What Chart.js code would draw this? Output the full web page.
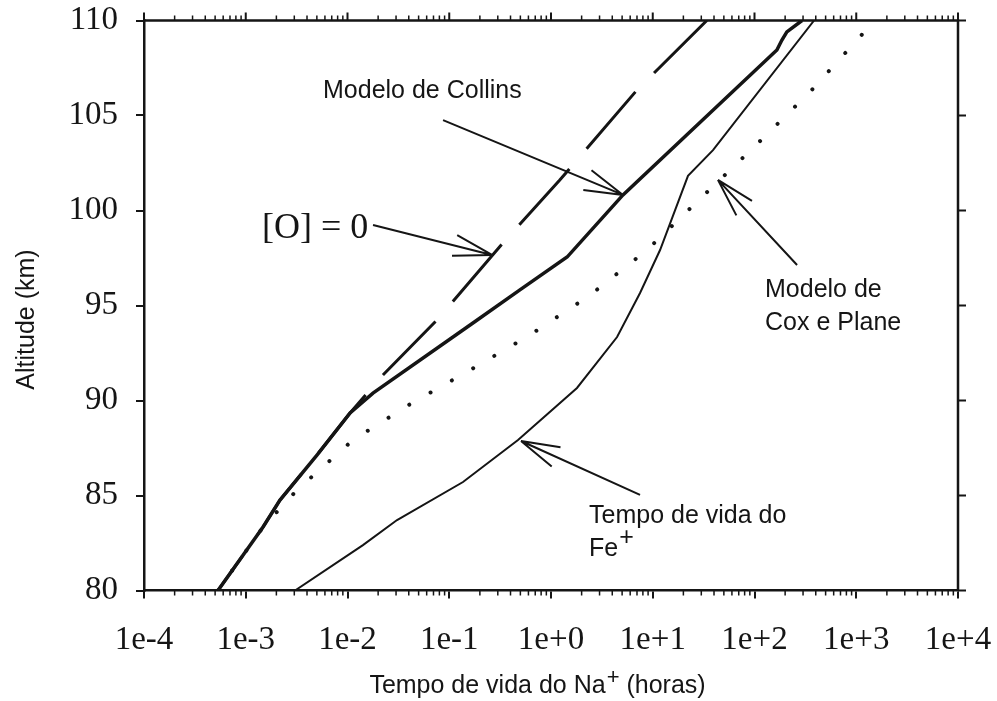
<!DOCTYPE html>
<html><head><meta charset="utf-8">
<script src="https://cdn.jsdelivr.net/npm/chart.js@4"></script>
<style>html,body{margin:0;padding:0;background:#fff;}canvas{display:block}</style>
</head><body>
<canvas id="c" width="997" height="701"></canvas>
<script>
// ---- tick values / labels ----
const xTickValues = [1e-4, 1e-3, 1e-2, 1e-1, 1, 10, 100, 1000, 10000];
const xTickLabels = ['1e-4', '1e-3', '1e-2', '1e-1', '1e+0', '1e+1', '1e+2', '1e+3', '1e+4'];
const yTickValues = [80, 85, 90, 95, 100, 105, 110];
const yTickLabels = ['80', '85', '90', '95', '100', '105', '110'];

// ---- series (lifetime in hours vs altitude in km) ----
const collinsAlt  = [80, 83.34, 84.76, 87.13, 89.34, 90.39, 94.08, 95.82, 97.55, 100.82, 108.45, 108.97, 109.4, 110];
const collinsTime = [5.33e-4, 1.479e-3, 2.17e-3, 5.01e-3, 0.0106, 0.0178, 0.171, 0.495, 1.44, 5.1, 166, 186, 208, 293];

const oZeroAlt  = [80, 83.34, 84.76, 87.13, 89.34, 91.34, 94.24, 98.29, 101.6, 106.34, 110];
const oZeroTime = [5.33e-4, 1.479e-3, 2.17e-3, 5.01e-3, 0.0106, 0.0223, 0.0759, 0.337, 1.22, 7.0, 34];

const coxAlt  = [80, 83.34, 85.29, 87.92, 89.87, 91.66, 93.45, 95.5, 97.92, 100.66, 103.39, 106.24, 109.03, 109.7];
const coxTime = [5.33e-4, 1.479e-3, 3.19e-3, 0.01132, 0.0431, 0.1675, 0.622, 2.36, 8.77, 29.8, 101, 351, 1040, 1350];

const feAlt  = [80, 82.39, 83.71, 85.71, 87.92, 90.66, 93.34, 95.66, 97.92, 101.82, 103.18, 110];
const feTime = [3.05e-3, 0.01418, 0.0307, 0.1365, 0.474, 1.80, 4.46, 7.5, 11.8, 22.2, 39.1, 385];

// ---- annotations (data coordinates) ----
const noteTexts = [
  {lines: ['Modelo de Collins'], x: 5.744e-3, y: 105.92, serif: false},
  {lines: ['[O] = 0'], x: 1.445e-3, y: 98.55, serif: true},
  {lines: ['Modelo de', 'Cox e Plane'], x: 126.8, y: 95.45, serif: false},
  {lines: ['Tempo de vida do', 'Fe'], sup: '+', x: 2.363, y: 83.55, serif: false}
];
const noteArrows = [
  {from: [0.0869, 104.76], to: [5.1, 100.82]},
  {from: [0.01782, 99.24], to: [0.263, 97.66]},
  {from: [262, 97.13], to: [43.7, 101.61]},
  {from: [7.5, 85.03], to: [0.507, 87.87]}
];

const toXY = (xs, ys) => xs.map((v, i) => ({x: v, y: ys[i]}));
const INK = '#151515';

const decorPlugin = {
  id: 'decor',
  afterDraw(chart) {
    const ctx = chart.ctx, a = chart.chartArea;
    const xs = chart.scales.x, ys = chart.scales.y;
    ctx.save();
    ctx.strokeStyle = INK; ctx.fillStyle = INK;
    // frame top & right
    ctx.lineWidth = 2.5;
    ctx.beginPath();
    ctx.moveTo(a.left, a.top); ctx.lineTo(a.right, a.top); ctx.lineTo(a.right, a.bottom);
    ctx.stroke();
    // top major ticks, right major ticks
    ctx.lineWidth = 2;
    ctx.beginPath();
    xTickValues.forEach(v => { const p = xs.getPixelForValue(v); ctx.moveTo(p, a.top); ctx.lineTo(p, a.top - 8); });
    yTickValues.forEach(v => { const p = ys.getPixelForValue(v); ctx.moveTo(a.right, p); ctx.lineTo(a.right + 8, p); });
    ctx.stroke();
    // minor ticks top & bottom
    ctx.lineWidth = 1.5;
    ctx.beginPath();
    for (let d = -4; d < 4; d++) {
      for (let m = 2; m <= 9; m++) {
        const p = xs.getPixelForValue(m * Math.pow(10, d));
        ctx.moveTo(p, a.bottom); ctx.lineTo(p, a.bottom + 5);
        ctx.moveTo(p, a.top); ctx.lineTo(p, a.top - 5);
      }
    }
    ctx.stroke();

    // arrows
    ctx.lineWidth = 2;
    noteArrows.forEach(ar => {
      const x1 = xs.getPixelForValue(ar.from[0]), y1 = ys.getPixelForValue(ar.from[1]);
      const x2 = xs.getPixelForValue(ar.to[0]), y2 = ys.getPixelForValue(ar.to[1]);
      const ang = Math.atan2(y2 - y1, x2 - x1);
      ctx.beginPath();
      ctx.moveTo(x1, y1); ctx.lineTo(x2, y2);
      [-1, 1].forEach(s => {
        const b = ang + Math.PI + s * 0.27;
        ctx.moveTo(x2, y2); ctx.lineTo(x2 + 40 * Math.cos(b), y2 + 40 * Math.sin(b));
      });
      ctx.stroke();
    });

    // texts
    ctx.textAlign = 'left'; ctx.textBaseline = 'alphabetic';
    noteTexts.forEach(n => {
      const px = xs.getPixelForValue(n.x), py = ys.getPixelForValue(n.y);
      ctx.font = n.serif ? '36px "Liberation Serif"' : '25px "Liberation Sans"';
      n.lines.forEach((ln, i) => {
        const yy = py + i * (n.serif ? 40 : 33);
        ctx.fillText(ln, px, yy);
        if (n.sup && i === n.lines.length - 1) {
          const w = ctx.measureText(ln).width;
          ctx.fillText(n.sup, px + w + 1, yy - 11);
        }
      });
    });

    // axis titles
    ctx.font = '25px "Liberation Sans"';
    const p1 = 'Tempo de vida do Na', p2 = '+', p3 = ' (horas)';
    const w1 = ctx.measureText(p1).width, w3 = ctx.measureText(p3).width;
    ctx.font = '22px "Liberation Sans"';
    const w2 = ctx.measureText(p2).width;
    let sx = (a.left + a.right) / 2 - 14 - (w1 + w2 + w3) / 2;
    const by = 693;
    ctx.font = '25px "Liberation Sans"';
    ctx.fillText(p1, sx, by);
    ctx.font = '22px "Liberation Sans"';
    ctx.fillText(p2, sx + w1 + 1, by - 9);
    ctx.font = '25px "Liberation Sans"';
    ctx.fillText(p3, sx + w1 + w2 + 1, by);

    ctx.save();
    ctx.translate(27, (a.top + a.bottom) / 2 + 14);
    ctx.rotate(-Math.PI / 2);
    ctx.textAlign = 'center'; ctx.textBaseline = 'middle';
    ctx.fillText('Altitude (km)', 0, 0);
    ctx.restore();

    ctx.restore();
  }
};

new Chart(document.getElementById('c'), {
  type: 'scatter',
  data: {
    datasets: [
      {label: '[O] = 0', data: toXY(oZeroTime, oZeroAlt), showLine: true, borderColor: INK,
       borderWidth: 3, borderDash: [75, 26.5], borderDashOffset: 32.8, pointRadius: 0, tension: 0},
      {label: 'Modelo de Cox e Plane', data: toXY(coxTime, coxAlt), showLine: true, borderColor: INK,
       borderWidth: 4, borderDash: [0.01, 24.5], borderCapStyle: 'round', pointRadius: 0, tension: 0},
      {label: 'Tempo de vida do Fe+', data: toXY(feTime, feAlt), showLine: true, borderColor: INK,
       borderWidth: 2, pointRadius: 0, tension: 0},
      {label: 'Modelo de Collins', data: toXY(collinsTime, collinsAlt), showLine: true, borderColor: INK,
       borderWidth: 3.5, pointRadius: 0, tension: 0}
    ]
  },
  options: {
    responsive: false,
    animation: false,
    devicePixelRatio: 1,
    layout: {padding: {left: 0, right: 39, top: 20.5, bottom: 0}},
    plugins: {legend: {display: false}, tooltip: {enabled: false}},
    scales: {
      x: {
        type: 'logarithmic', min: 1e-4, max: 1e4,
        afterBuildTicks: s => { s.ticks = xTickValues.map(v => ({value: v, major: true})); },
        afterFit: s => { s.height = 110.5; s.paddingLeft = 0; s.paddingRight = 0; s.paddingTop = 0; s.paddingBottom = 0; },
        ticks: {
          autoSkip: false, maxRotation: 0, minRotation: 0, padding: 22, color: INK,
          font: {family: 'Liberation Serif', size: 33},
          callback: (v, i) => xTickLabels[i]
        },
        grid: {display: true, drawOnChartArea: false, drawTicks: true, tickLength: 8, color: INK, lineWidth: 2},
        border: {display: true, color: INK, width: 2.5}
      },
      y: {
        type: 'linear', min: 80, max: 110,
        afterBuildTicks: s => { s.ticks = yTickValues.map(v => ({value: v})); },
        afterFit: s => { s.width = 144; s.paddingLeft = 0; s.paddingRight = 0; s.paddingTop = 0; s.paddingBottom = 0; },
        ticks: {
          autoSkip: false, padding: 18, color: INK,
          font: {family: 'Liberation Serif', size: 33},
          callback: (v, i) => yTickLabels[i]
        },
        grid: {display: true, drawOnChartArea: false, drawTicks: true, tickLength: 8, color: INK, lineWidth: 2},
        border: {display: true, color: INK, width: 2.5}
      }
    }
  },
  plugins: [decorPlugin]
});
</script>
</body></html>
